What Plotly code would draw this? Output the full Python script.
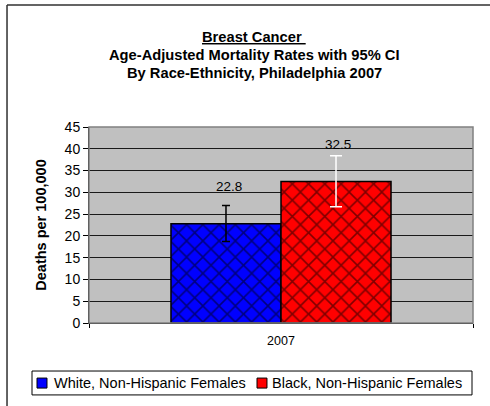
import plotly.graph_objects as go

categories = ["2007"]
series_names = ["White, Non-Hispanic Females", "Black, Non-Hispanic Females"]
rates = [22.8, 32.5]
ci_lower = [18.7, 26.7]
ci_upper = [27.0, 38.4]
bar_colors = ["#0000FF", "#FF0000"]
err_colors = ["#000000", "#FFFFFF"]
err_widths = [4, 6]
label_shift = [-52, 57]
title_lines = ["<u>Breast Cancer\u00a0</u>",
               "Age-Adjusted Mortality Rates with 95% CI",
               "By Race-Ethnicity, Philadelphia 2007"]
y_ticks = [0, 5, 10, 15, 20, 25, 30, 35, 40, 45]

FONT = "Liberation Sans, Arial, sans-serif"

fig = go.Figure()
for i, name in enumerate(series_names):
    fig.add_trace(go.Bar(
        x=categories, y=[rates[i]], name=name, showlegend=False,
        marker=dict(color=bar_colors[i],
                    line=dict(color="#000000", width=1.5),
                    pattern=dict(shape="x", fgcolor="#000000", bgcolor=bar_colors[i],
                                 size=11.5, solidity=0.25)),
        error_y=dict(type="data", symmetric=False,
                     array=[ci_upper[i] - rates[i]],
                     arrayminus=[rates[i] - ci_lower[i]],
                     color=err_colors[i], thickness=1.5, width=err_widths[i]),
    ))

annotations = []
cat_index = categories.index("2007")
for i in range(len(series_names)):
    annotations.append(dict(
        x=cat_index, y=rates[i], xref="x", yref="y",
        text=f"{rates[i]:.1f}", showarrow=False, xshift=label_shift[i], yshift=37,
        font=dict(family=FONT, size=13.5, color="#000000")))

title_y = [1.459, 1.367, 1.276]
for t, yy in zip(title_lines, title_y):
    annotations.append(dict(
        x=0.43, y=yy, xref="paper", yref="paper", xanchor="center", yanchor="middle",
        text=f"<b>{t}</b>", showarrow=False,
        font=dict(family=FONT, size=14.7, color="#000000")))

# custom legend (Excel style)
leg_sq_x = [(-0.1354, -0.1094), (0.4375, 0.4635)]
leg_txt_x = [-0.0964, 0.4714]
for i, name in enumerate(series_names):
    annotations.append(dict(
        x=leg_txt_x[i], y=-0.306, xref="paper", yref="paper", xanchor="left",
        yanchor="middle", text=name, showarrow=False,
        font=dict(family=FONT, size=14.5, color="#000000")))

shapes = [
    # plot area border
    dict(type="rect", xref="paper", yref="paper", x0=0, y0=0, x1=1, y1=1,
         line=dict(color="#808080", width=1.5), layer="above"),
    # outer chart border (left and top edges visible)
    dict(type="line", xref="paper", yref="paper", x0=-0.2135, y0=-0.6, x1=-0.2135, y1=1.622,
         line=dict(color="#303030", width=1.5)),
    dict(type="line", xref="paper", yref="paper", x0=-0.2135, y0=1.622, x1=1.3, y1=1.622,
         line=dict(color="#303030", width=1.5)),
    # legend box
    dict(type="rect", xref="paper", yref="paper", x0=-0.1484, y0=-0.367, x1=0.9974, y1=-0.245,
         line=dict(color="#000000", width=1), fillcolor="#FFFFFF"),
]
for i in range(len(series_names)):
    shapes.append(dict(type="rect", xref="paper", yref="paper",
                       x0=leg_sq_x[i][0], x1=leg_sq_x[i][1], y0=-0.332, y1=-0.281,
                       line=dict(color="#000000", width=1), fillcolor=bar_colors[i]))

fig.update_layout(
    width=490, height=406,
    margin=dict(l=89, r=17, t=127, b=83, autoexpand=False),
    paper_bgcolor="#FFFFFF", plot_bgcolor="#C0C0C0",
    barmode="group", bargap=0.427, bargroupgap=0,
    font=dict(family=FONT, size=12, color="#000000"),
    showlegend=False,
    annotations=annotations,
    shapes=shapes,
)
fig.update_xaxes(type="category", range=[-0.5, 0.5], autorange=False, automargin=False,
                 showgrid=False, showline=True, linecolor="#000000",
                 linewidth=1, ticks="outside", tickson="boundaries", ticklen=4,
                 tickcolor="#000000", tickangle=0, ticklabelstandoff=6,
                 tickfont=dict(size=12.5, family=FONT), fixedrange=True)
fig.update_yaxes(range=[0, 45], autorange=False, automargin=False, tickvals=y_ticks,
                 showgrid=True, gridcolor="#1a1a1a",
                 gridwidth=1, showline=True, linecolor="#000000", linewidth=1,
                 ticks="outside", ticklen=5, tickcolor="#000000",
                 tickfont=dict(size=14, family=FONT), zeroline=False, fixedrange=True,
                 title=dict(text="<b>Deaths per 100,000</b>", standoff=14,
                            font=dict(size=14.5, family=FONT)))

fig.write_html("out.html", config={"displayModeBar": False},
               post_script=("document.body.style.margin='0px';"
                            "document.body.style.overflow='hidden';"
                            "document.documentElement.style.overflow='hidden';"))
